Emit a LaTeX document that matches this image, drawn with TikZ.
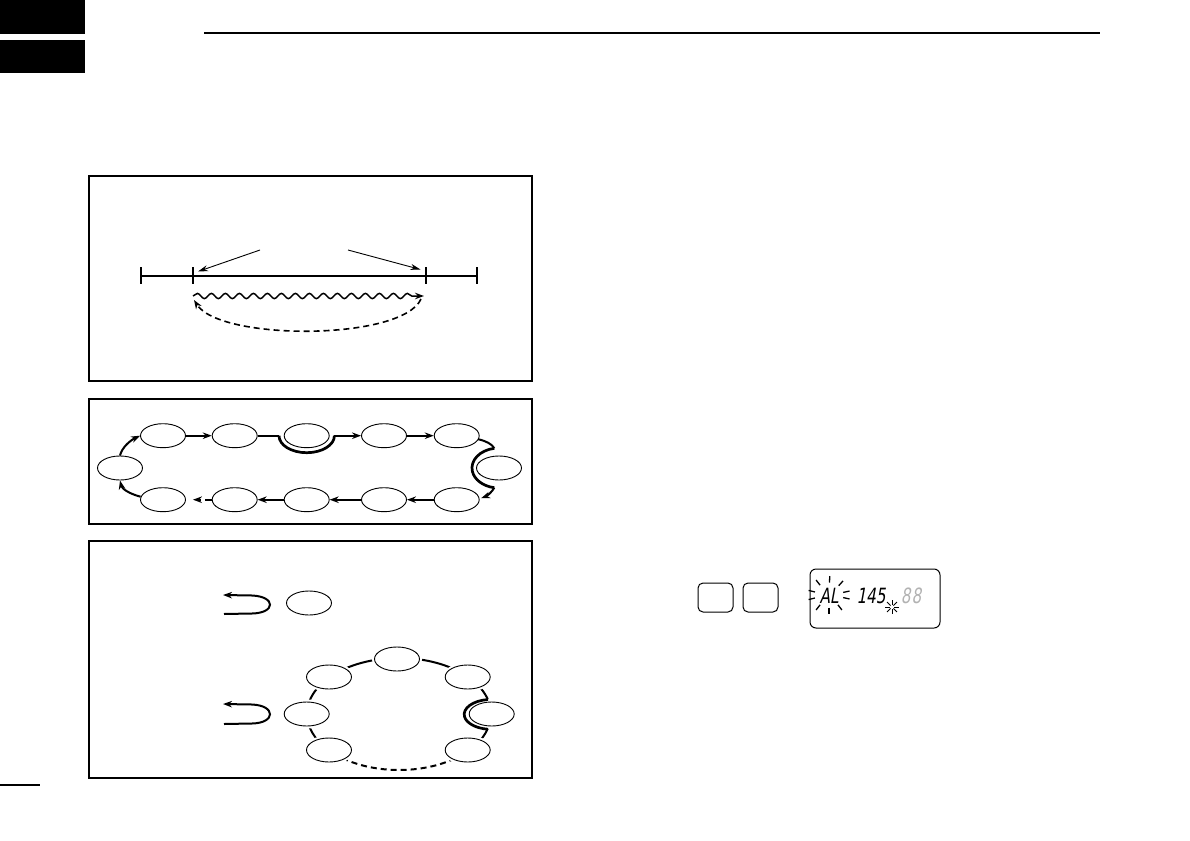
\documentclass[tikz,border=0pt]{standalone}
\usepackage{fontspec}
\newfontfamily\lcdfont{DejaVu Sans}[FakeSlant=0.18,FakeStretch=0.72]
\usetikzlibrary{arrows.meta,shapes.geometric,decorations.pathmorphing,calc}
\begin{document}
\begin{tikzpicture}[x=1pt,y=-1pt,
  frame/.style={draw,line width=1.2pt},
  ell/.style={ellipse,draw,line width=0.9pt,fill=white,minimum width=45pt,minimum height=24pt,inner sep=0pt},
  halo/.style={preaction={draw=white,line width=5pt}},
  lw2/.style={line width=2pt},
  byp/.style={line width=2.7pt},
  arr/.style={-{Stealth[length=9pt,width=6.5pt]}},
  thinarr/.style={line width=0.9pt,-{Stealth[length=10pt,width=6pt]}},
  dsh/.style={dash pattern=on 6pt off 4pt},
  key/.style={draw,line width=1pt,rounded corners=5pt,minimum width=35pt,minimum height=29pt,inner sep=0pt},
  lcdtxt/.style={font=\lcdfont\fontsize{21}{21}\selectfont,inner sep=0pt},
  ray/.style={line width=1.3pt}
]
\useasboundingbox (0,0) rectangle (1190,840);
% page decorations
\fill (0,0) rectangle (85,34);
\fill (0,40) rectangle (85,73);
\draw[line width=2pt] (204,33.5) -- (1100,33.5);
\draw[line width=1.5pt] (0,785) -- (40,785);

% ---------- panel 1 ----------
\draw[frame] (89,176) rectangle (532,381);
\coordinate (k1) at (141,276);
\coordinate (k2) at (193,276);
\coordinate (k3) at (426,276);
\coordinate (k4) at (477,276);
\draw[lw2] (k1) -- (k4);
\foreach \k in {k1,k2,k3,k4} \draw[lw2] ($(\k)+(0,-9)$) -- ($(\k)+(0,8)$);
\coordinate (la) at (260,250);
\coordinate (ra) at (348,250);
\draw[thinarr] (la) -- (198,271.5);
\draw[thinarr] (ra) -- (420.5,269.5);
\coordinate (ws) at (193,296);
\coordinate (we) at (424,296);
\draw[line width=1.5pt,-{Stealth[length=9pt,width=6.5pt]},
      decorate,decoration={snake,segment length=14pt,amplitude=2.6pt,post length=7pt}] (ws) -- (we);
\coordinate (ds) at (421,299);
\coordinate (de) at (194,300);
\draw[line width=1.6pt,dsh,-{Stealth[length=9pt,width=6.5pt]}] (ds) .. controls (402,341) and (220,341) .. (de);

% ---------- panel 2 ----------
\draw[frame] (89,399) rectangle (532,524);
\node[ell] (t1) at (163,435.7) {};
\node[ell] (t2) at (234.7,435.7) {};
\node[ell] (t3) at (306.7,435.7) {};
\node[ell] (t4) at (384,435.7) {};
\node[ell] (t5) at (456.7,435.7) {};
\node[ell] (ml) at (120,468) {};
\node[ell] (mr) at (499,468) {};
\node[ell] (b1) at (163,499.7) {};
\node[ell] (b2) at (234.7,499.7) {};
\node[ell] (b3) at (306.7,499.7) {};
\node[ell] (b4) at (384,499.7) {};
\node[ell] (b5) at (456.7,499.7) {};
\draw[lw2,arr] (t1.east) -- (t2.west);
\draw[lw2] (t2.east) -- (279,435.7);
\draw[byp] (279,435.7) arc[start angle=180,end angle=360,x radius=27.7pt,y radius=17pt];
\draw[lw2,arr] (334.4,435.7) -- (t4.west);
\draw[lw2,arr] (t4.east) -- (t5.west);
\draw[lw2] ($(t5.east)+(-1.5,3.5)$) .. controls (486,441) and (492,444) .. (494.3,448.3);
\draw[byp] (494.3,448.3) arc[start angle=100,end angle=260,x radius=27pt,y radius=20pt];
\draw[lw2,arr] (494.3,487.7) .. controls (492,492) and (487,496) .. ($(b5.east)+(1.5,-1.5)$);
\draw[lw2,arr] (b5.west) -- (b4.east);
\draw[lw2,arr] (b4.west) -- (b3.east);
\draw[lw2,arr] (b3.west) -- (b2.east);
\draw[lw2,dash pattern=on 7pt off 4pt,arr] (b2.west) -- ($(b1.east)+(7,0)$);
\draw[lw2,arr] ($(b1.west)+(0.5,-3)$) .. controls (130,494) and (122,489) .. (ml.south);
\draw[lw2,arr] (ml.north) .. controls (122,447) and (131,440) .. (t1.west);

% ---------- panel 3 ----------
\draw[frame] (89,541) rectangle (532,778);
\draw[lw2,arr] (224,614) -- (252,613.5) .. controls (276,613) and (276,596.5) .. (252,595.5) -- (223,595);
\node[ell] (single) at (309,603) {};
\draw[lw2,arr] (224,724) -- (252,723.5) .. controls (276,723) and (276,705.5) .. (252,704.5) -- (223,704);
% ring
\draw[lw2] (487.87,699.51) arc[start angle=15,end angle=232,x radius=92pt,y radius=56pt];
\draw[lw2,dsh] (342.36,758.13) arc[start angle=232,end angle=308,x radius=92pt,y radius=56pt];
\draw[lw2] (455.64,758.13) arc[start angle=308,end angle=345,x radius=92pt,y radius=56pt];
\node[ell,halo] (rt) at (397,659) {};
\node[ell,halo] (rul) at (329,677) {};
\node[ell,halo] (rur) at (467.7,677) {};
\node[ell,halo] (rml) at (306.7,714) {};
\node[ell,halo] (rmr) at (491.7,714) {};
\node[ell,halo] (rbl) at (329,750) {};
\node[ell,halo] (rbr) at (467.7,750) {};
\draw[byp] (487.87,699.51) arc[start angle=98,end angle=262,x radius=27.5pt,y radius=15pt];

% ---------- keys and display ----------
\node[key] (keya) at (715.5,597.5) {};
\node[key] (keyb) at (760.5,597.5) {};
\draw[line width=1pt,rounded corners=6pt] (810,569) rectangle (940,628);
\node[lcdtxt] (al) at (829,596) {AL};
\node[lcdtxt] (num) at (871,596) {145};
\node[lcdtxt,text=black!30] (ghost) at (911,596) {8\kern1pt8};
\coordinate (alc) at (829,595);
\foreach \a in {-12,12,48,88,128,166,194,232,270,308}
  \draw[ray] ($(alc)+(\a:14.5pt and 12.5pt)$) -- ($(alc)+(\a:21pt and 19pt)$);
\coordinate (star) at (892,607);
\foreach \a in {0,45,...,315}
  \draw[line width=1pt] ($(star)+(\a:2pt)$) -- ($(star)+(\a:7pt)$);
\end{tikzpicture}
\end{document}
